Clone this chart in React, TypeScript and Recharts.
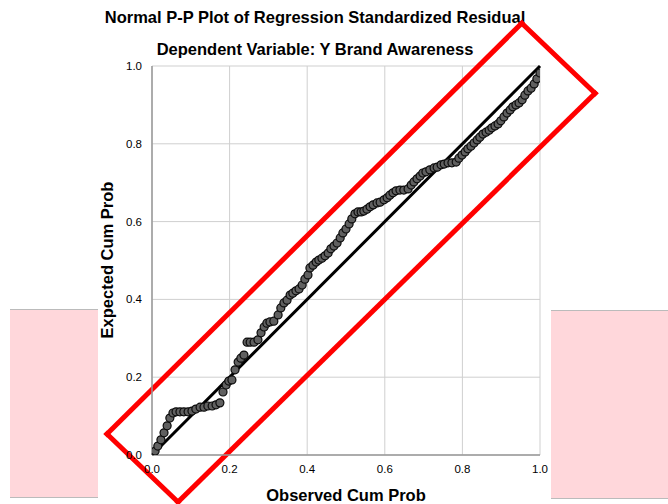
import { ScatterChart, Scatter, XAxis, YAxis, CartesianGrid, ReferenceLine } from 'recharts';

const observedCumProb = [
  0.0, 0.008, 0.015, 0.023, 0.031, 0.039, 0.046, 0.054, 0.062, 0.072,
  0.082, 0.093, 0.103, 0.113, 0.124, 0.134, 0.144, 0.155, 0.165, 0.175,
  0.183, 0.191, 0.198, 0.206, 0.214, 0.222, 0.229, 0.237, 0.245, 0.253,
  0.263, 0.273, 0.281, 0.289, 0.296, 0.304, 0.314, 0.325, 0.332, 0.34,
  0.348, 0.356, 0.363, 0.371, 0.379, 0.387, 0.394, 0.402, 0.407, 0.415,
  0.423, 0.43, 0.438, 0.446, 0.454, 0.461, 0.469, 0.477, 0.485, 0.492,
  0.5, 0.508, 0.515, 0.523, 0.531, 0.539, 0.546, 0.554, 0.562, 0.57,
  0.58, 0.588, 0.598, 0.606, 0.613, 0.621, 0.629, 0.639, 0.649, 0.66,
  0.668, 0.675, 0.683, 0.691, 0.698, 0.706, 0.716, 0.727, 0.735, 0.745,
  0.753, 0.763, 0.773, 0.784, 0.791, 0.799, 0.807, 0.814, 0.822, 0.83,
  0.838, 0.845, 0.853, 0.861, 0.869, 0.876, 0.884, 0.892, 0.899, 0.907,
  0.915, 0.923, 0.93, 0.938, 0.946, 0.954, 0.961, 0.969, 0.977, 0.985,
  0.992, 1.0,
];
const expectedCumProb = [
  0.0, 0.01, 0.023, 0.039, 0.057, 0.075, 0.095, 0.108, 0.111, 0.111,
  0.111, 0.111, 0.113, 0.118, 0.123, 0.123, 0.126, 0.126, 0.129, 0.134,
  0.162, 0.18, 0.19, 0.193, 0.219, 0.239, 0.249, 0.257, 0.29, 0.29,
  0.29, 0.296, 0.314, 0.329, 0.339, 0.342, 0.344, 0.36, 0.378, 0.391,
  0.398, 0.411, 0.416, 0.422, 0.427, 0.437, 0.452, 0.463, 0.481, 0.488,
  0.496, 0.501, 0.506, 0.512, 0.519, 0.53, 0.537, 0.545, 0.558, 0.571,
  0.581, 0.594, 0.607, 0.62, 0.625, 0.625, 0.627, 0.632, 0.638, 0.643,
  0.648, 0.65, 0.656, 0.661, 0.668, 0.674, 0.679, 0.681, 0.681, 0.684,
  0.694, 0.702, 0.71, 0.717, 0.725, 0.728, 0.733, 0.738, 0.74, 0.746,
  0.748, 0.751, 0.751, 0.753, 0.763, 0.771, 0.779, 0.787, 0.794, 0.802,
  0.81, 0.817, 0.825, 0.83, 0.835, 0.841, 0.846, 0.851, 0.859, 0.869,
  0.879, 0.887, 0.895, 0.9, 0.905, 0.913, 0.925, 0.936, 0.943, 0.954,
  0.967, 0.982,
];

const axisTicks = [0, 0.2, 0.4, 0.6, 0.8, 1.0];

// diagonal reference (expected = observed)
const diagonal = [
  { x: 0, y: 0 },
  { x: 1, y: 1 },
];

// red highlight box drawn over the plot, corners in data units
const highlightBox = [
  { x: 0.953, y: 1.11 },
  { x: 1.142, y: 0.93 },
  { x: 0.067, y: -0.121 },
  { x: -0.116, y: 0.054 },
];

const FONT = '"Liberation Sans", Arial, sans-serif';

const points = observedCumProb.map((x, i) => ({ x, y: expectedCumProb[i] }));

function Dot(props: any) {
  const { cx, cy } = props;
  return <circle cx={cx} cy={cy} r={4} fill="#606060" stroke="#0a0a0a" strokeWidth={1.2} />;
}

const pinkBox = {
  position: 'absolute' as const,
  background: '#ffd7db',
  borderTop: '1px solid #bbb',
  borderBottom: '1px solid #bbb',
};

const heading = {
  position: 'absolute' as const,
  textAlign: 'center' as const,
  fontSize: 16.5,
  fontWeight: 'bold' as const,
  whiteSpace: 'nowrap' as const,
};

export default function App() {
  const fmt = (v: number) => v.toFixed(1);
  return (
    <div style={{ position: 'absolute', left: 0, top: 0, width: 668, height: 504, background: '#fff', fontFamily: FONT, overflow: 'hidden' }}>
      <div style={{ ...pinkBox, left: 10, top: 309, width: 88, height: 187 }} />
      <div style={{ ...pinkBox, left: 551, top: 310, width: 117, height: 187 }} />

      <div style={{ ...heading, left: 0, width: 630, top: 8 }}>
        Normal P-P Plot of Regression Standardized Residual
      </div>
      <div style={{ ...heading, left: 0, width: 630, top: 40 }}>
        Dependent Variable: Y Brand Awareness
      </div>
      <div style={{ ...heading, left: 152, width: 388, top: 486 }}>
        Observed Cum Prob
      </div>
      <div
        style={{
          ...heading,
          left: 107 - 100,
          top: 260 - 10,
          width: 200,
          height: 20,
          lineHeight: '20px',
          transform: 'rotate(-90deg)',
        }}
      >
        Expected Cum Prob
      </div>

      <div style={{ position: 'absolute', left: 0, top: 0 }}>
        <ScatterChart width={668} height={504} margin={{ top: 66, right: 128, bottom: 0, left: 0 }}>
          <CartesianGrid stroke="#cfcfcf" strokeWidth={1} />
          <XAxis
            type="number"
            dataKey="x"
            domain={[0, 1]}
            ticks={axisTicks}
            tickFormatter={fmt}
            allowDataOverflow
            height={49}
            tickLine={false}
            tickMargin={4}
            axisLine={{ stroke: '#999', strokeWidth: 1.5 }}
            tick={{ fontSize: 11.5, fill: '#000', fontFamily: FONT }}
          />
          <YAxis
            type="number"
            dataKey="y"
            domain={[0, 1]}
            ticks={axisTicks}
            tickFormatter={fmt}
            allowDataOverflow
            width={152}
            tickLine={false}
            tickMargin={4}
            axisLine={{ stroke: '#999', strokeWidth: 1.5 }}
            tick={{ fontSize: 11.5, fill: '#000', fontFamily: FONT }}
          />
          <Scatter data={points} shape={Dot} isAnimationActive={false} />
          <ReferenceLine segment={diagonal} stroke="#000" strokeWidth={3} />
          {highlightBox.map((p, i) => (
            <ReferenceLine
              key={i}
              segment={[p, highlightBox[(i + 1) % highlightBox.length]]}
              stroke="#ff0000"
              strokeWidth={5}
              strokeLinecap="square"
              ifOverflow="visible"
            />
          ))}
        </ScatterChart>
      </div>
    </div>
  );
}
